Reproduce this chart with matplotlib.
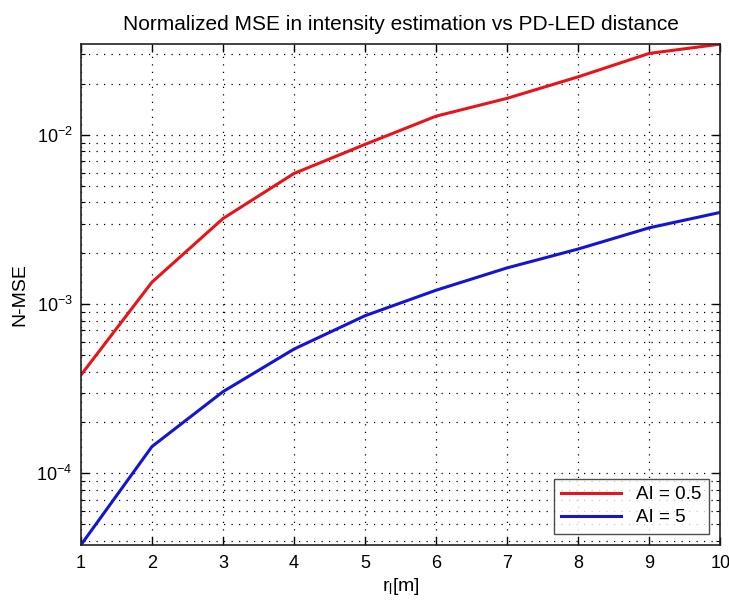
import matplotlib
matplotlib.use("Agg")
import matplotlib.pyplot as plt
from matplotlib.ticker import LogLocator, NullFormatter, FixedLocator

plt.rcParams['font.family'] = ['Liberation Sans', 'DejaVu Sans']
plt.rcParams['mathtext.fontset'] = 'custom'
plt.rcParams['mathtext.rm'] = 'Liberation Sans'
plt.rcParams['mathtext.it'] = 'Liberation Sans'

distance = [1, 2, 3, 4, 5, 6, 7, 8, 9, 10]
nmse_ai_05 = [3.81e-4, 1.35e-3, 3.21e-3, 5.93e-3, 8.81e-3, 1.294e-2, 1.65e-2, 2.21e-2, 3.04e-2, 3.45e-2]
nmse_ai_5 = [3.77e-5, 1.44e-4, 3.04e-4, 5.43e-4, 8.55e-4, 1.21e-3, 1.64e-3, 2.12e-3, 2.83e-3, 3.49e-3]
labels = ['AI = 0.5', 'AI = 5']
x_ticks = [1, 2, 3, 4, 5, 6, 7, 8, 9, 10]

fig = plt.figure(figsize=(7.29, 6.02), dpi=100)
ax = fig.add_axes([0.111, 0.0947, 0.877, 0.832])

ax.semilogy(distance, nmse_ai_05, color='#e8141a', lw=2.2, label=labels[0])
ax.semilogy(distance, nmse_ai_5, color='#1414d8', lw=2.2, label=labels[1])

ax.set_xlim(min(distance), max(distance))
ax.set_ylim(min(nmse_ai_5), max(nmse_ai_05))
ax.xaxis.set_major_locator(FixedLocator(x_ticks))
ax.yaxis.set_major_locator(LogLocator(base=10, numticks=10))
ax.yaxis.set_minor_locator(LogLocator(base=10, subs=range(2, 10), numticks=20))
ax.yaxis.set_minor_formatter(NullFormatter())

ax.grid(True, which='major', axis='both', color='black', linestyle=(0, (1, 5)), lw=0.9)
ax.grid(True, which='minor', axis='y', color='black', linestyle=(0, (1, 5)), lw=0.9)

ax.tick_params(which='both', direction='in', top=True, right=True, labelsize=13, color='black')
ax.tick_params(which='major', length=6, width=1)
ax.tick_params(which='minor', length=3, width=0.8)
ax.tick_params(axis='x', pad=7)
ax.tick_params(axis='y', pad=6)
for s in ax.spines.values():
    s.set_linewidth(1.2)
    s.set_color('#222222')

ax.set_title('Normalized MSE in intensity estimation vs PD-LED distance', fontsize=15, pad=10)
ax.set_xlabel(r'r$_\mathregular{l}$[m]', fontsize=14, labelpad=3)
ax.set_ylabel('N-MSE', fontsize=14, labelpad=6)

leg = ax.legend(loc='lower right', fontsize=13.5, frameon=True, fancybox=False,
                edgecolor='#222222', borderaxespad=0.6, handlelength=3.2, labelspacing=0.3)
leg.get_frame().set_linewidth(1.0)

fig.savefig('out.png', dpi=100)
